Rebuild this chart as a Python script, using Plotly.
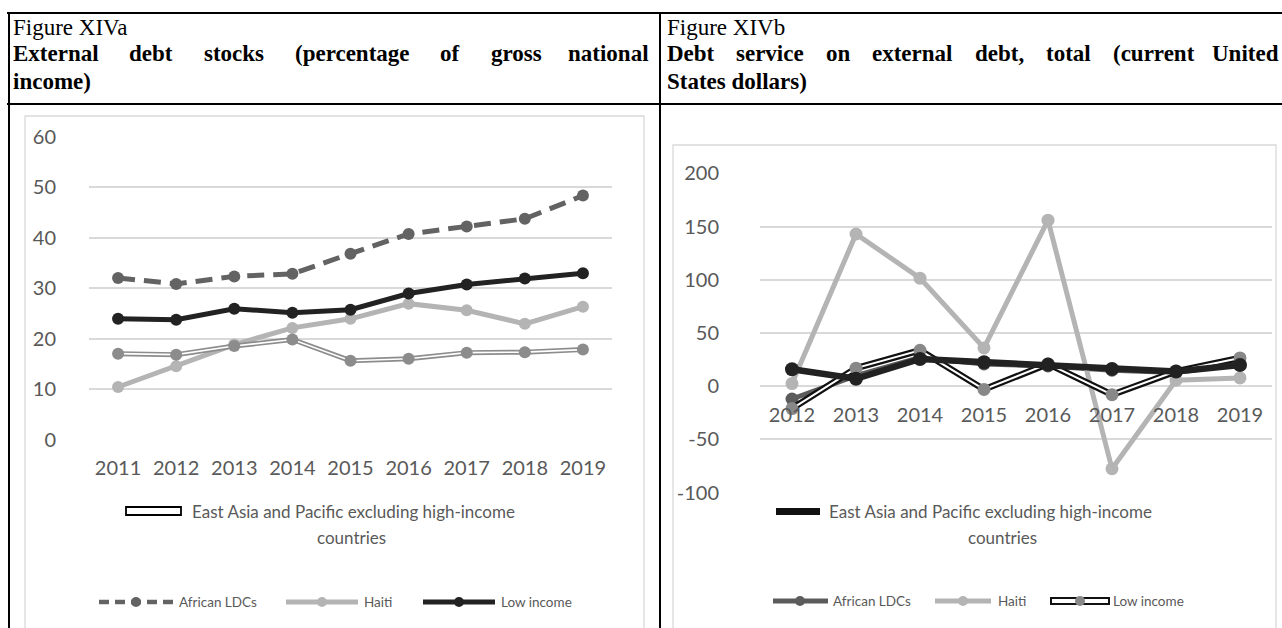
import plotly.graph_objects as go

# ---------------- data ----------------
years_a = ["2011", "2012", "2013", "2014", "2015", "2016", "2017", "2018", "2019"]
african_a = [32.0, 30.8, 32.3, 32.8, 36.8, 40.7, 42.2, 43.7, 48.3]
haiti_a = [10.4, 14.5, 18.8, 22.1, 23.9, 26.9, 25.6, 22.9, 26.3]
low_a = [23.9, 23.7, 25.9, 25.1, 25.7, 28.9, 30.7, 31.9, 32.9]
eap_a = [17.0, 16.8, 18.5, 19.8, 15.6, 16.0, 17.2, 17.3, 17.8]

years_b = ["2012", "2013", "2014", "2015", "2016", "2017", "2018", "2019"]
african_b = [-12, 10, 27, 21, 19, 15, 13, 21]
haiti_b = [2.5, 143, 101.5, 36, 156, -77.5, 5.6, 7.8]
low_b = [-21, 17, 33.7, -3, 21, -8, 14, 26.6]
eap_b = [16, 7, 25.6, 22.5, 20.3, 16.3, 13.8, 20]

yticks_a = [0, 10, 20, 30, 40, 50, 60]
yticklabels_a = ["0", "10", "20", "30", "40", "50", "60"]
yticks_b = [-100, -50, 0, 50, 100, 150, 200]
yticklabels_b = ["-100", "-50", "0", "50", "100", "150", "200"]

fig_a_label = "Figure XIVa"
fig_a_title = ["External debt stocks (percentage of gross national", "income)"]
fig_b_label = "Figure XIVb"
fig_b_title = ["Debt service on external debt, total (current United", "States dollars)"]
legend_names = ["East Asia and Pacific excluding high-income", "countries",
                "African LDCs", "Haiti", "Low income"]

# ---------------- helpers ----------------
W, H = 1282, 628


def px(x):
    return x / W


def py(y):
    return 1 - y / H


TIMES_B = {' ': 250, '(': 333, ')': 333, ',': 250, '-': 333,
           'a': 500, 'b': 556, 'c': 444, 'd': 556, 'e': 444, 'f': 333, 'g': 500,
           'h': 556, 'i': 278, 'j': 333, 'k': 556, 'l': 278, 'm': 833, 'n': 556,
           'o': 500, 'p': 556, 'q': 556, 'r': 444, 's': 389, 't': 333, 'u': 556,
           'v': 500, 'w': 722, 'x': 500, 'y': 500, 'z': 444,
           'D': 722, 'E': 667, 'S': 556, 'U': 722}


def bw(word, size):
    return sum(TIMES_B.get(c, 500) for c in word) * size / 1000.0


SERIF = "Liberation Serif, Times New Roman, serif"
SANS = "Lato, Calibri, sans-serif"
GREY_TXT = "#595959"
TSIZE = 23

C_DARK = "#636363"
C_LIGHT = "#b4b4b4"
C_BLACK = "#222222"
C_MID = "#8c8c8c"
GRID = "#d9d9d9"

fig = go.Figure()

# ---------------- left chart traces ----------------
fig.add_trace(go.Scatter(x=years_a, y=haiti_a, mode="lines+markers",
                         line=dict(color=C_LIGHT, width=5),
                         marker=dict(color=C_LIGHT, size=12), xaxis="x", yaxis="y",
                         showlegend=False))
fig.add_trace(go.Scatter(x=years_a, y=eap_a, mode="lines",
                         line=dict(color=C_MID, width=5), xaxis="x", yaxis="y",
                         showlegend=False))
fig.add_trace(go.Scatter(x=years_a, y=eap_a, mode="lines",
                         line=dict(color="white", width=1.6), xaxis="x", yaxis="y",
                         showlegend=False))
fig.add_trace(go.Scatter(x=years_a, y=eap_a, mode="markers",
                         marker=dict(color=C_MID, size=12), xaxis="x", yaxis="y",
                         showlegend=False))
fig.add_trace(go.Scatter(x=years_a, y=low_a, mode="lines+markers",
                         line=dict(color=C_BLACK, width=5),
                         marker=dict(color=C_BLACK, size=12), xaxis="x", yaxis="y",
                         showlegend=False))
fig.add_trace(go.Scatter(x=years_a, y=african_a, mode="lines+markers",
                         line=dict(color=C_DARK, width=5, dash="17px,9px"),
                         marker=dict(color=C_DARK, size=12), xaxis="x", yaxis="y",
                         showlegend=False))

# ---------------- right chart traces ----------------
fig.add_trace(go.Scatter(x=years_b, y=african_b, mode="lines+markers",
                         line=dict(color="#5c5c5c", width=5),
                         marker=dict(color="#5c5c5c", size=13), xaxis="x2", yaxis="y2",
                         showlegend=False))
fig.add_trace(go.Scatter(x=years_b, y=haiti_b, mode="lines+markers",
                         line=dict(color=C_LIGHT, width=5),
                         marker=dict(color=C_LIGHT, size=13), xaxis="x2", yaxis="y2",
                         showlegend=False))
fig.add_trace(go.Scatter(x=years_b, y=low_b, mode="lines",
                         line=dict(color="#111111", width=6.5), xaxis="x2", yaxis="y2",
                         showlegend=False))
fig.add_trace(go.Scatter(x=years_b, y=low_b, mode="lines",
                         line=dict(color="white", width=2), xaxis="x2", yaxis="y2",
                         showlegend=False))
fig.add_trace(go.Scatter(x=years_b, y=low_b, mode="markers",
                         marker=dict(color="#888888", size=13), xaxis="x2", yaxis="y2",
                         showlegend=False))
fig.add_trace(go.Scatter(x=years_b, y=eap_b, mode="lines+markers",
                         line=dict(color=C_BLACK, width=6.5),
                         marker=dict(color=C_BLACK, size=14), xaxis="x2", yaxis="y2",
                         showlegend=False))

tickfont = dict(family=SANS, size=20, color=GREY_TXT)

fig.update_layout(
    width=W, height=H, autosize=False,
    margin=dict(l=0, r=0, t=0, b=0, pad=0),
    paper_bgcolor="white", plot_bgcolor="white",
    xaxis=dict(domain=[px(89), px(612)], type="category", range=[-0.5, 8.5],
               showgrid=False, zeroline=False, showline=False, ticks="",
               tickfont=tickfont, ticklabelstandoff=14, anchor="y", fixedrange=True,
               automargin=False),
    yaxis=dict(domain=[py(439.5), py(136.5)], range=[0, 60], tickvals=yticks_a,
               ticktext=yticklabels_a, showgrid=True, gridcolor=GRID, gridwidth=1.5,
               zeroline=False, showline=False, ticks="", tickfont=tickfont,
               ticklabelstandoff=32, anchor="x", automargin=False),
    xaxis2=dict(domain=[px(760), px(1272)], type="category", range=[-0.5, 7.5],
                showgrid=False, zeroline=False, showline=False, ticks="",
                tickfont=tickfont, ticklabelstandoff=14, anchor="free",
                position=py(386.7), automargin=False),
    yaxis2=dict(domain=[py(492.7), py(173.3)], range=[-100, 200], tickvals=yticks_b,
                ticktext=yticklabels_b, showgrid=True, gridcolor=GRID, gridwidth=1.5,
                zeroline=False, showline=False, ticks="", tickfont=tickfont,
                ticklabelstandoff=40, anchor="x2", automargin=False),
)

shapes = []
ann = []


# ---------------- table borders ----------------
def line(x0, y0, x1, y1, color="black", width=2, dash=None):
    d = dict(type="line", xref="paper", yref="paper", x0=px(x0), y0=py(y0),
             x1=px(x1), y1=py(y1), line=dict(color=color, width=width))
    if dash:
        d["line"]["dash"] = dash
    shapes.append(d)


line(7, 13, 1290, 13)
line(7, 104, 1290, 104)
line(9, 13, 9, 640)
line(660, 13, 660, 640)

# chart frames
shapes.append(dict(type="rect", xref="paper", yref="paper", x0=px(25), x1=px(644),
                   y0=py(116), y1=py(660), line=dict(color=GRID, width=1.3),
                   layer="below"))
shapes.append(dict(type="rect", xref="paper", yref="paper", x0=px(673), x1=px(1276),
                   y0=py(145), y1=py(660), line=dict(color=GRID, width=1.3),
                   layer="below"))


# ---------------- header text ----------------
def text(x, y, s, size, family, color="black", anchor="left", bold=False):
    ann.append(dict(xref="paper", yref="paper", x=px(x), y=py(y), text=s,
                    showarrow=False, xanchor=anchor, yanchor="middle",
                    font=dict(family=family, size=size, color=color,
                              weight="bold" if bold else "normal")))


def justified(x0, x1, y, sentence, size):
    words = sentence.split(" ")
    widths = [bw(w, size) for w in words]
    gap = (x1 - x0 - sum(widths)) / (len(words) - 1)
    x = x0
    for i, (w, wd) in enumerate(zip(words, widths)):
        if i == len(words) - 1:
            text(x1, y, w, size, SERIF, bold=True, anchor="right")
        else:
            text(x, y, w, size, SERIF, bold=True)
        x += wd + gap


text(11, 27, fig_a_label, TSIZE, SERIF)
justified(11, 651, 54, fig_a_title[0], TSIZE)
text(11, 81, fig_a_title[1], TSIZE, SERIF, bold=True)

text(665, 27, fig_b_label, TSIZE, SERIF)
justified(665, 1281, 54, fig_b_title[0], TSIZE)
text(665, 81, fig_b_title[1], TSIZE, SERIF, bold=True)

# ---------------- legends ----------------
LG = 17
LS = 13.5
# left chart
shapes.append(dict(type="rect", xref="paper", yref="paper", x0=px(126), x1=px(181),
                   y0=py(507), y1=py(515), line=dict(color="black", width=1.8),
                   fillcolor="white"))
text(190, 511, legend_names[0], LG, SANS, GREY_TXT)
text(351, 537, legend_names[1], LG, SANS, GREY_TXT, anchor="center")


def dot(cx, cy, r, color):
    shapes.append(dict(type="circle", xref="paper", yref="paper", x0=px(cx - r),
                       x1=px(cx + r), y0=py(cy - r), y1=py(cy + r),
                       line=dict(width=0), fillcolor=color))


ry = 602
line(99, ry, 173, ry, C_DARK, 4.5, "10px,6px")
dot(136, ry, 5, C_DARK)
text(177, ry, legend_names[2], LS, SANS, GREY_TXT)
line(286, ry, 358, ry, C_LIGHT, 5)
dot(322, ry, 5, C_LIGHT)
text(362, ry, legend_names[3], LS, SANS, GREY_TXT)
line(423, ry, 495, ry, C_BLACK, 5)
dot(459, ry, 5, C_BLACK)
text(499, ry, legend_names[4], LS, SANS, GREY_TXT)

# right chart
shapes.append(dict(type="rect", xref="paper", yref="paper", x0=px(776), x1=px(820),
                   y0=py(508), y1=py(515), line=dict(width=0), fillcolor="#111111"))
text(827, 511, legend_names[0], LG, SANS, GREY_TXT)
text(1003, 537, legend_names[1], LG, SANS, GREY_TXT, anchor="center")

ry2 = 601
line(773, ry2, 828, ry2, "#5c5c5c", 5)
dot(800, ry2, 5, "#5c5c5c")
text(831, ry2, legend_names[2], LS, SANS, GREY_TXT)
line(935, ry2, 991, ry2, C_LIGHT, 5)
dot(963, ry2, 5, C_LIGHT)
text(996, ry2, legend_names[3], LS, SANS, GREY_TXT)
shapes.append(dict(type="rect", xref="paper", yref="paper", x0=px(1051), x1=px(1109),
                   y0=py(598), y1=py(604), line=dict(color="#111111", width=2),
                   fillcolor="white"))
dot(1080, ry2, 5, "#888888")
text(1111, ry2, legend_names[4], LS, SANS, GREY_TXT)

fig.update_layout(shapes=shapes, annotations=ann)
# remove the default 8px page margin so the 1282x628 figure fills the window
fig.write_html("out.html",
               config={"displayModeBar": False},
               post_script="document.body.style.margin='0';"
                           "document.body.style.overflow='hidden';")
